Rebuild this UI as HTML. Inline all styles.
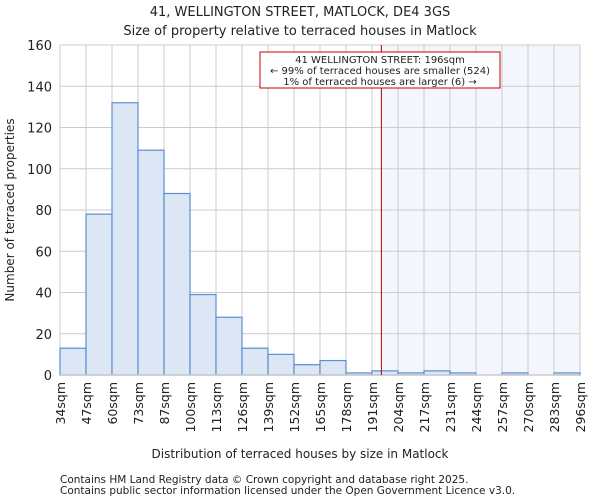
<!DOCTYPE html>
<html><head><meta charset="utf-8"><style>
body{margin:0;background:#fff;font-family:"DejaVu Sans","Liberation Sans",sans-serif;}
svg text{font-family:"DejaVu Sans","Liberation Sans",sans-serif;fill:#222;}
</style></head><body>
<svg width="600" height="500" xmlns="http://www.w3.org/2000/svg">
<text x="300" y="16" text-anchor="middle" font-size="13">41, WELLINGTON STREET, MATLOCK, DE4 3GS</text>
<text x="300" y="35" text-anchor="middle" font-size="13">Size of property relative to terraced houses in Matlock</text>
<g id="plot"></g>
<text x="300" y="458" text-anchor="middle" font-size="12">Distribution of terraced houses by size in Matlock</text>
<text x="14" y="210" text-anchor="middle" font-size="12" transform="rotate(-90 14 210)">Number of terraced properties</text>
<text x="60" y="483" font-size="10.5">Contains HM Land Registry data © Crown copyright and database right 2025.</text>
<text x="60" y="494" font-size="10.5">Contains public sector information licensed under the Open Government Licence v3.0.</text>
</svg>
<script>
const categories=["34sqm","47sqm","60sqm","73sqm","87sqm","100sqm","113sqm","126sqm","139sqm","152sqm","165sqm","178sqm","191sqm","204sqm","217sqm","231sqm","244sqm","257sqm","270sqm","283sqm","296sqm"];
const counts=[13,78,132,109,88,39,28,13,10,5,7,1,2,1,2,1,0,1,0,1];
const yTicks=[0,20,40,60,80,100,120,140,160];
const markerIndex=12.36;
const NS="http://www.w3.org/2000/svg";
const g=document.getElementById('plot');
const L=60,R=580,T=45,B=375,yMax=160,n=counts.length;
const bw=(R-L)/n;
const x=i=>L+i*bw;
const y=v=>B-(v/yMax)*(B-T);
function mk(t,a){const e=document.createElementNS(NS,t);for(const k in a)e.setAttribute(k,a[k]);g.appendChild(e);return e;}
const sx=x(markerIndex);
let e=mk('rect',{x:sx,y:T,width:R-sx,height:B-T,fill:'#f3f6fd'});


yTicks.forEach(v=>{
 let l=mk('line',{x1:L,x2:R,y1:y(v),y2:y(v),stroke:'#ccc','stroke-width':1});
 
 
 let t=mk('text',{x:L-8,y:y(v)+5,'text-anchor':'end','font-size':13});
 t.textContent=v;
 
 
});
categories.forEach((c,i)=>{
 let l=mk('line',{x1:x(i),x2:x(i),y1:T,y2:B,stroke:'#ccc','stroke-width':1});
 
 
 let tx=x(i)+5;
 let t=mk('text',{x:tx,y:382,'text-anchor':'end','font-size':12.5,transform:`rotate(-90 ${tx} 382)`});
 t.textContent=c;
 
 
});
counts.forEach((v,i)=>{
 if(v<=0)return;
 let r=mk('rect',{x:x(i),y:y(v),width:bw,height:B-y(v),fill:'#dde6f4',stroke:'#5b8fd0','stroke-width':1.2});
 
 
});
let ax=mk('line',{x1:L,x2:R,y1:B,y2:B,stroke:'#ccc','stroke-width':1.5});


let ml=mk('line',{x1:sx,x2:sx,y1:T,y2:B,stroke:'#b00000','stroke-width':1});


let box=mk('rect',{x:260,y:52,width:240,height:36,fill:'#fff',stroke:'#cc0000','stroke-width':1});


["41 WELLINGTON STREET: 196sqm","← 99% of terraced houses are smaller (524)","1% of terraced houses are larger (6) →"].forEach((s,i)=>{
 let t=mk('text',{x:380,y:63+i*11,'text-anchor':'middle','font-size':10});
 t.textContent=s;
 
 
});
</script>
</body></html>
